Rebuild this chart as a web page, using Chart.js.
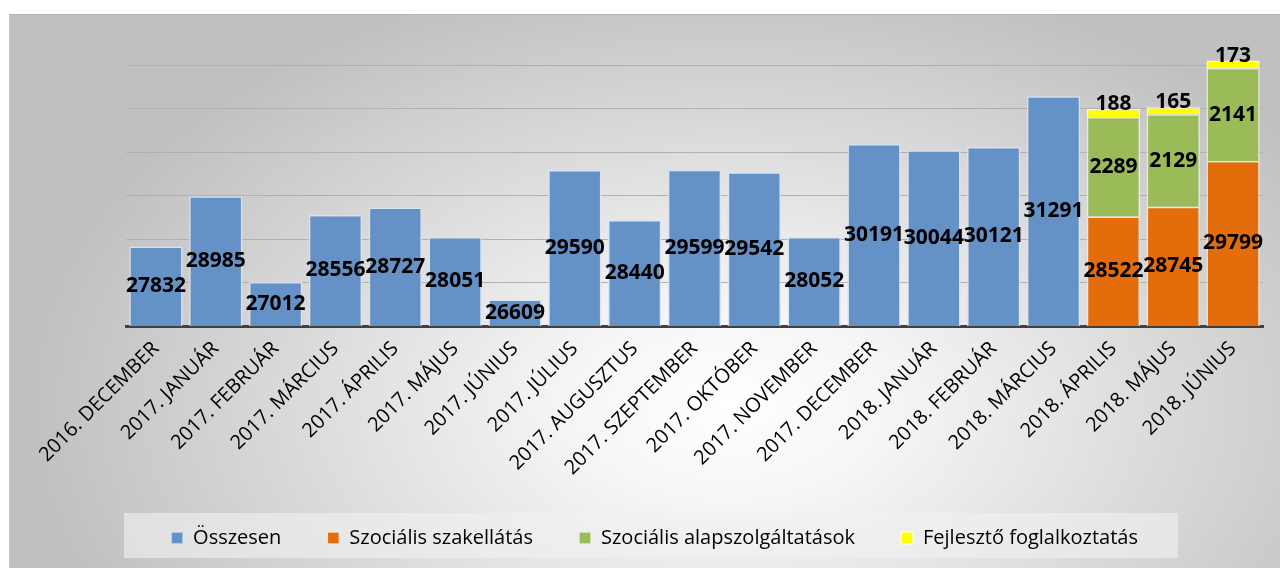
<!DOCTYPE html>
<html>
<head>
<meta charset="utf-8">
<script src="https://cdn.jsdelivr.net/npm/chart.js@4.4.1/dist/chart.umd.min.js"></script>
<style>
    body { margin: 0; background: #fff; }
    #panel {
        position: absolute; left: 9px; top: 14px; width: 1271px; height: 554px;
        background: radial-gradient(ellipse 700px 440px at 720px 390px, #ffffff 0%, #f6f6f6 22%, #c0c0c0 100%);
        box-shadow: inset 0 1px 0 #b4b4b4, inset 1px 0 0 #c4c4c4;
    }
</style>
</head>
<body>
<div id="panel"><canvas id="chart"></canvas></div>
<script>
// honapok
const labels = ['2016. DECEMBER', '2017. JANUÁR', '2017. FEBRUÁR', '2017. MÁRCIUS', '2017. ÁPRILIS',
    '2017. MÁJUS', '2017. JÚNIUS', '2017. JÚLIUS', '2017. AUGUSZTUS', '2017. SZEPTEMBER',
    '2017. OKTÓBER', '2017. NOVEMBER', '2017. DECEMBER', '2018. JANUÁR', '2018. FEBRUÁR',
    '2018. MÁRCIUS', '2018. ÁPRILIS', '2018. MÁJUS', '2018. JÚNIUS']

const osszesen = [27832, 28985, 27012, 28556, 28727, 28051, 26609, 29590, 28440, 29599,
    29542, 28052, 30191, 30044, 30121, 31291, null, null, null]
const szakellatas = [null, null, null, null, null, null, null, null, null, null,
    null, null, null, null, null, null, 28522, 28745, 29799]
const alapszolgaltatasok = [null, null, null, null, null, null, null, null, null, null,
    null, null, null, null, null, null, 2289, 2129, 2141]
const fejleszto = [null, null, null, null, null, null, null, null, null, null,
    null, null, null, null, null, null, 188, 165, 173]

const yTicks = { min: 26000, max: 33000, step: 1000, lastGrid: 32000 }

const fontFamily = '"Open Sans", "DejaVu Sans", sans-serif'

// cimkek a oszlopokon + jelmagyarazat hattere
const panelPlugin = {
    id: 'panelPlugin',
    afterLayout(chart) {
        chart.legend.left -= 40
        chart.legend.right -= 40
    },
    beforeDraw(chart) {
        const ctx = chart.ctx
        ctx.save()
        ctx.fillStyle = 'rgba(240,240,240,0.62)'
        ctx.fillRect(115, 499, 1054, 45)
        ctx.restore()
    },
    afterDatasetsDraw(chart) {
        const ctx = chart.ctx
        const area = chart.chartArea
        ctx.save()
        ctx.font = `bold 21px ${fontFamily}`
        ctx.fillStyle = '#000'
        ctx.textAlign = 'center'
        ctx.textBaseline = 'middle'
        chart.data.datasets.forEach((ds, i) => {
            const meta = chart.getDatasetMeta(i)
            meta.data.forEach((bar, j) => {
                const v = ds.data[j]
                if (v == null) return
                const bottom = Math.min(bar.base, area.bottom)
                const y = ds.labelAbove ? bar.y - 5 : (bar.y + bottom) / 2
                ctx.fillText(String(v), bar.x, y)
            })
        })
        ctx.restore()
    }
}

const barStyle = { barPercentage: 0.89, categoryPercentage: 1, borderWidth: 1.5, borderSkipped: 'start' }

new Chart(document.getElementById('chart'), {
    type: 'bar',
    data: {
        labels: labels,
        datasets: [
            Object.assign({ label: 'Összesen', data: osszesen, backgroundColor: '#6592c6', borderColor: 'rgba(215,228,244,0.9)' }, barStyle),
            Object.assign({ label: 'Szociális szakellátás', data: szakellatas, backgroundColor: '#e46c0a', borderColor: 'rgba(250,228,210,0.9)' }, barStyle),
            Object.assign({ label: 'Szociális alapszolgáltatások', data: alapszolgaltatasok, backgroundColor: '#9bbb59', borderColor: 'rgba(235,242,222,0.9)' }, barStyle),
            Object.assign({ label: 'Fejlesztő foglalkoztatás', data: fejleszto, backgroundColor: '#ffff00', borderColor: 'rgba(255,255,220,0.9)', labelAbove: true }, barStyle)
        ]
    },
    options: {
        responsive: true,
        maintainAspectRatio: false,
        animation: false,
        layout: { padding: { left: 117, right: 17, top: 8, bottom: 10 } },
        scales: {
            x: {
                stacked: true,
                grid: { display: false },
                border: { display: true, color: '#404040', width: 3 },
                ticks: {
                    autoSkip: false, minRotation: 45, maxRotation: 45, padding: 3,
                    color: '#000', font: { family: fontFamily, size: 20 }
                },
                afterFit: s => { s.height = 156 }
            },
            y: {
                stacked: true,
                min: yTicks.min,
                max: yTicks.max,
                border: { display: false },
                grid: {
                    drawTicks: false,
                    lineWidth: 1,
                    color: c => (c.tick && c.tick.value > yTicks.lastGrid) ? 'rgba(0,0,0,0)' : '#b0b0b0'
                },
                ticks: { display: false, stepSize: yTicks.step },
                afterFit: s => { s.width = 0 }
            }
        },
        plugins: {
            legend: {
                position: 'bottom',
                labels: {
                    boxWidth: 12, boxHeight: 12, padding: 46, color: '#000',
                    font: { family: fontFamily, size: 20 }
                }
            },
            tooltip: { enabled: false }
        }
    },
    plugins: [panelPlugin]
})
</script>
</body>
</html>
